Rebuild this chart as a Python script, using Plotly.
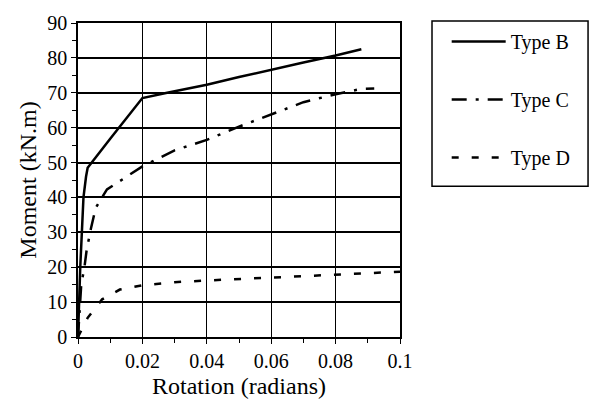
import plotly.graph_objects as go

# Data
b_x = [0, 0.0003, 0.0007, 0.0012, 0.0017, 0.0025, 0.003, 0.01, 0.02, 0.0277, 0.04, 0.05, 0.06, 0.07, 0.08, 0.088]
b_y = [0, 10, 20, 30, 40, 46, 48.5, 56.8, 68.5, 70, 72.3, 74.5, 76.7, 78.7, 80.7, 82.5]

c_x = [0, 0.0005, 0.001, 0.002, 0.0027, 0.004, 0.0055, 0.009, 0.015, 0.02, 0.03, 0.04, 0.05, 0.06, 0.07, 0.08, 0.088, 0.092]
c_y = [0, 8, 15, 20, 25, 31, 37, 42.3, 45.8, 48.9, 53.5, 56.5, 60.3, 63.9, 67.3, 69.6, 71.1, 71.2]

d_x = [0, 0.003, 0.0075, 0.013, 0.02, 0.03, 0.04, 0.05, 0.06, 0.07, 0.08, 0.09, 0.1]
d_y = [0, 5.5, 10.8, 13.6, 14.8, 15.7, 16.2, 16.6, 17.0, 17.6, 18.0, 18.4, 18.7]

names = ["Type B", "Type C", "Type D"]
x_ticks = [0, 0.02, 0.04, 0.06, 0.08, 0.1]
x_tick_text = ["0", "0.02", "0.04", "0.06", "0.08", "0.1"]
y_ticks = [0, 10, 20, 30, 40, 50, 60, 70, 80, 90]

font_family = "Liberation Serif, DejaVu Serif, serif"

fig = go.Figure()
series = [(b_x, b_y, "solid"), (c_x, c_y, "15px,9px,3px,9px"), (d_x, d_y, "7px,13px")]
for i, ((xs, ys, dash), nm) in enumerate(zip(series, names)):
    fig.add_trace(go.Scatter(
        x=xs, y=ys, mode="lines", name=nm, legendgroup=nm,
        line=dict(color="black", width=2.5, dash=dash),
    ))

# legend frame
fig.add_shape(type="rect", xref="paper", yref="paper",
              x0=1.0994, x1=1.584, y0=0.48, y1=1.006,
              line=dict(color="black", width=1.5), fillcolor="rgba(0,0,0,0)")

fig.update_layout(
    width=592, height=408,
    margin=dict(l=78, r=192, t=16, b=71),
    paper_bgcolor="white", plot_bgcolor="white",
    font=dict(family=font_family, color="black", size=20),
    showlegend=True,
    legend=dict(
        x=1.145, y=1.003, xanchor="left", yanchor="top",
        borderwidth=0, bgcolor="rgba(0,0,0,0)",
        font=dict(family=font_family, size=20, color="black"),
        tracegroupgap=29, itemwidth=54,
    ),
    xaxis=dict(
        range=[0, 0.1], tickvals=x_ticks, ticktext=x_tick_text,
        showgrid=True, gridcolor="black", gridwidth=1.2,
        showline=True, linecolor="black", linewidth=1.5, mirror=True,
        ticks="outside", ticklen=5, tickcolor="black", tickwidth=1.2,
        minor=dict(dtick=0.01, ticks="outside", ticklen=4, tickcolor="black", showgrid=False),
        zeroline=False,
        title=dict(text="Rotation (radians)", font=dict(size=24), standoff=6),
        tickfont=dict(size=20),
    ),
    yaxis=dict(
        range=[0, 90], tickvals=y_ticks,
        showgrid=True, gridcolor="black", gridwidth=2,
        showline=True, linecolor="black", linewidth=1.5, mirror=True,
        ticks="outside", ticklen=5, tickcolor="black", tickwidth=1.2,
        minor=dict(dtick=5, ticks="outside", ticklen=4, tickcolor="black", showgrid=False),
        zeroline=False,
        title=dict(text="Moment (kN.m)", font=dict(size=24), standoff=4),
        tickfont=dict(size=20),
    ),
)

fig.write_html("out.html")
